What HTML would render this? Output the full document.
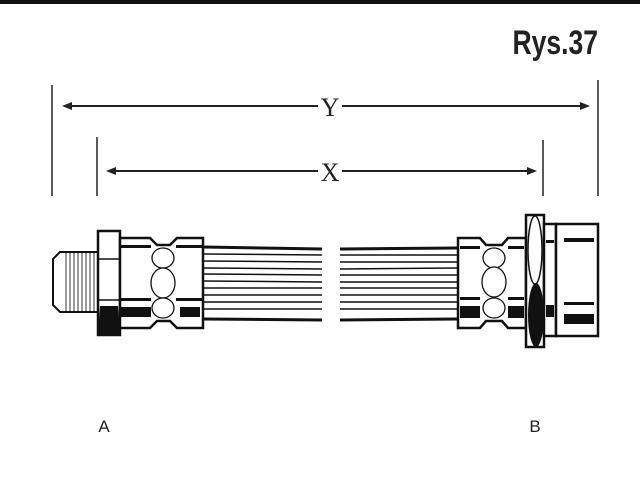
<!DOCTYPE html>
<html><head><style>
html,body{margin:0;padding:0;background:#fff;}
svg{display:block;}
</style></head><body>
<svg width="640" height="480" viewBox="0 0 640 480" xmlns="http://www.w3.org/2000/svg">
<rect x="0" y="0" width="640" height="480" fill="#fff"/>
<rect x="0" y="0" width="640" height="4" fill="#111"/>
<text x="598" y="54" text-anchor="end" font-family="Liberation Sans, sans-serif" font-weight="bold" font-size="34" transform="scale(0.78,1)" transform-origin="598 54" fill="#222">Rys.37</text>
<g stroke="#222" fill="none">
<line x1="52" y1="85" x2="52" y2="196" stroke-width="1.5"/>
<line x1="598" y1="80" x2="598" y2="196" stroke-width="1.5"/>
<line x1="97" y1="137" x2="97" y2="196" stroke-width="1.5"/>
<line x1="543" y1="140" x2="543" y2="196" stroke-width="1.5"/>
<line x1="64" y1="106" x2="318" y2="106" stroke-width="2"/>
<line x1="342" y1="106" x2="588" y2="106" stroke-width="2"/>
<line x1="109" y1="171" x2="318" y2="171" stroke-width="2"/>
<line x1="342" y1="171" x2="535" y2="171" stroke-width="2"/>
</g>
<g fill="#222">
<path d="M62 106 l10 -4 v8z"/><path d="M590 106 l-10 -4 v8z"/>
<path d="M106 171 l10 -4 v8z"/><path d="M537 171 l-10 -4 v8z"/>
</g>
<text x="330" y="116" text-anchor="middle" font-family="Liberation Serif, serif" font-size="26" fill="#222">Y</text>
<text x="330" y="181" text-anchor="middle" font-family="Liberation Serif, serif" font-size="26" fill="#222">X</text>
<text x="104" y="432" text-anchor="middle" font-family="Liberation Sans, sans-serif" font-size="17" fill="#222">A</text>
<text x="535" y="432" text-anchor="middle" font-family="Liberation Sans, sans-serif" font-size="17" fill="#222">B</text>
<!-- left fitting -->
<g stroke="#111" stroke-width="2" fill="#fff">
<path d="M60 252 H98 V312 H60 L53 305 V259 Z"/>
</g>
<g stroke="#333" stroke-width="1">
<line x1="66" y1="253" x2="66" y2="311"/><line x1="70" y1="253" x2="70" y2="311"/><line x1="74" y1="253" x2="74" y2="311"/><line x1="78" y1="253" x2="78" y2="311"/><line x1="82" y1="253" x2="82" y2="311"/><line x1="86" y1="253" x2="86" y2="311"/><line x1="90" y1="253" x2="90" y2="311"/><line x1="94" y1="253" x2="94" y2="311"/>
</g>
<g stroke="#111" stroke-width="2.5" fill="#fff">
<rect x="98" y="231" width="22" height="104"/>
<path d="M120 238 H150 L157 245 H170 L177 238 H203 V328 H177 L170 321 H157 L150 328 H120 Z"/>
</g>
<path d="M100 306 H118 L120 334 H98 Z" fill="#111"/>
<line x1="98" y1="259" x2="120" y2="259" stroke="#111" stroke-width="1.5"/>
<line x1="98" y1="300" x2="120" y2="300" stroke="#111" stroke-width="1.5"/>
<g fill="#111">
<rect x="121" y="245" width="30" height="3"/><rect x="176" y="245" width="26" height="3"/>
<rect x="121" y="298" width="30" height="3"/><rect x="176" y="298" width="26" height="3"/>
<rect x="121" y="307" width="30" height="10"/><rect x="180" y="307" width="20" height="10"/>
</g>
<g stroke="#111" stroke-width="1.3" fill="#fff">
<ellipse cx="163" cy="258" rx="11" ry="10"/><ellipse cx="163" cy="283" rx="12" ry="15"/><ellipse cx="163" cy="308" rx="11" ry="10"/>
</g>
<!-- hose lines -->
<g stroke="#111" stroke-width="1.5">
<line x1="203" y1="247" x2="322" y2="249" stroke-width="3"/>
<line x1="203" y1="254" x2="322" y2="255"/><line x1="203" y1="261" x2="322" y2="262"/>
<line x1="203" y1="268" x2="322" y2="269"/><line x1="203" y1="274" x2="322" y2="275"/>
<line x1="203" y1="281" x2="322" y2="282"/><line x1="203" y1="288" x2="322" y2="288"/>
<line x1="203" y1="295" x2="322" y2="295"/><line x1="203" y1="302" x2="322" y2="302"/>
<line x1="203" y1="309" x2="322" y2="309"/>
<line x1="203" y1="319" x2="322" y2="320" stroke-width="3"/>
<line x1="340" y1="249" x2="458" y2="248" stroke-width="3"/>
<line x1="340" y1="255" x2="458" y2="255"/><line x1="340" y1="262" x2="458" y2="262"/>
<line x1="340" y1="269" x2="458" y2="268"/><line x1="340" y1="275" x2="458" y2="275"/>
<line x1="340" y1="282" x2="458" y2="282"/><line x1="340" y1="288" x2="458" y2="288"/>
<line x1="340" y1="295" x2="458" y2="295"/><line x1="340" y1="302" x2="458" y2="302"/>
<line x1="340" y1="309" x2="458" y2="309"/>
<line x1="340" y1="320" x2="458" y2="319" stroke-width="3"/>
</g>
<!-- right fitting -->
<g stroke="#111" stroke-width="2.5" fill="#fff">
<path d="M458 238 H480 L486 245 H502 L508 238 H526 V328 H508 L502 321 H486 L480 328 H458 Z"/>
</g>
<g fill="#111">
<rect x="460" y="246" width="20" height="3"/><rect x="508" y="246" width="16" height="3"/>
<rect x="460" y="297" width="20" height="3"/><rect x="508" y="297" width="16" height="3"/>
<rect x="460" y="306" width="20" height="12"/><rect x="508" y="306" width="16" height="12"/>
</g>
<g stroke="#111" stroke-width="1.3" fill="#fff">
<ellipse cx="494" cy="258" rx="11" ry="10"/><ellipse cx="494" cy="282" rx="12" ry="15"/><ellipse cx="494" cy="308" rx="11" ry="10"/>
</g>
<g stroke="#111" stroke-width="2.5" fill="#fff">
<rect x="526" y="215" width="18" height="132"/>
<rect x="544" y="224" width="12" height="112"/>
<rect x="556" y="224" width="42" height="112"/>
</g>
<ellipse cx="535" cy="250" rx="7" ry="34" fill="none" stroke="#111" stroke-width="1.5"/>
<ellipse cx="536" cy="315" rx="8" ry="32" fill="#111"/>
<g fill="#111">
<rect x="564" y="238" width="30" height="4"/><rect x="564" y="302" width="30" height="3"/><rect x="564" y="314" width="30" height="10"/>
<rect x="546" y="240" width="8" height="3"/><rect x="546" y="305" width="8" height="12"/>
</g>
</svg>
</body></html>
